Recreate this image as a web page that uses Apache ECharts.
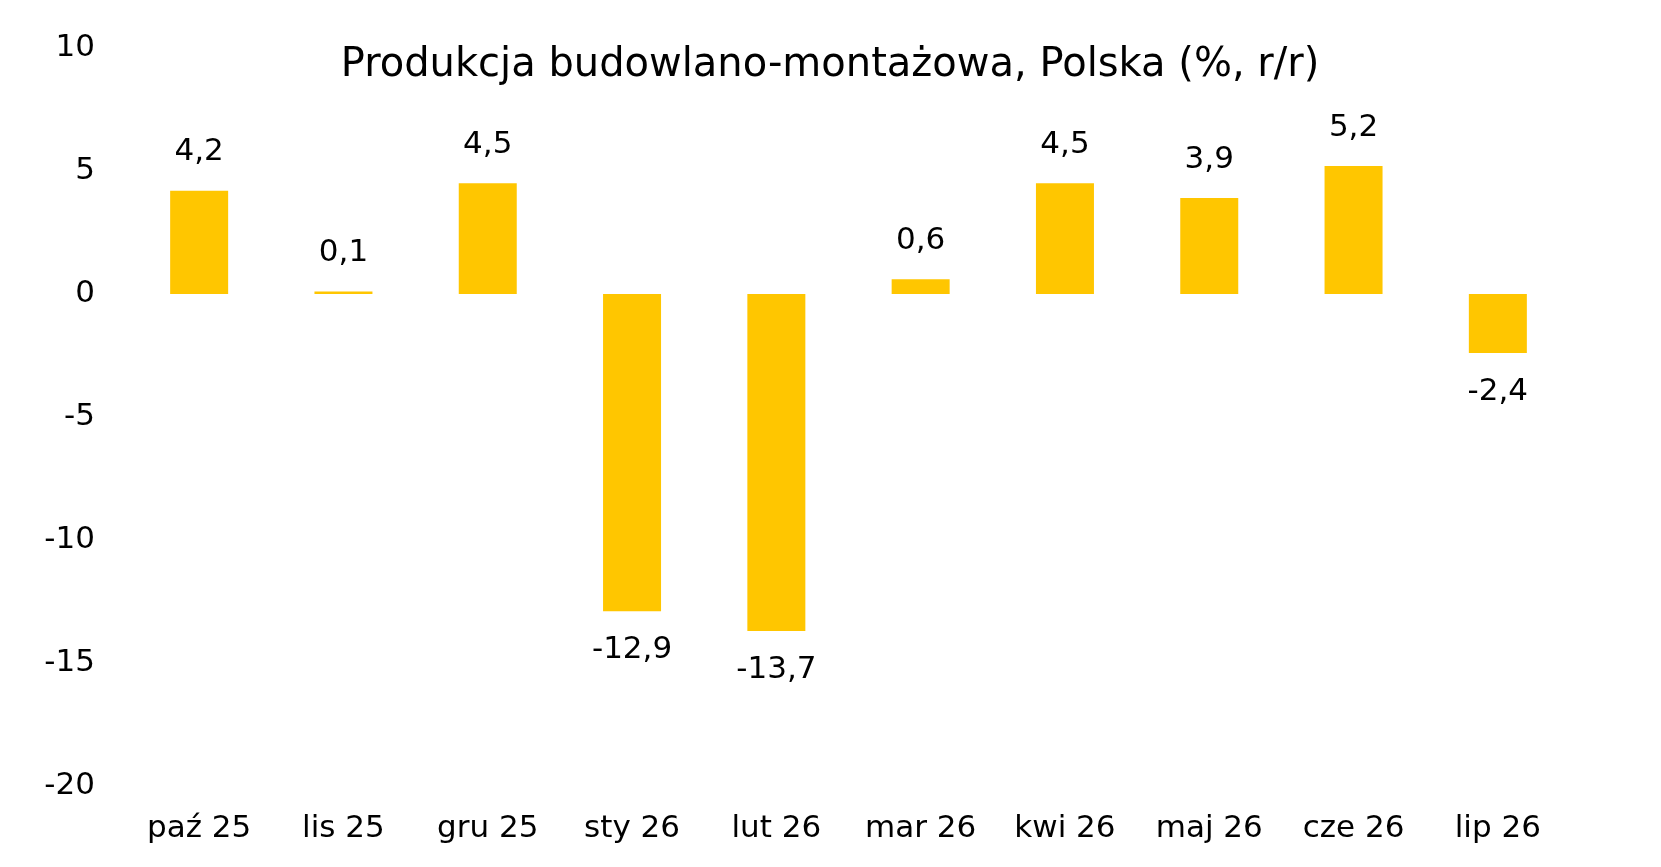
<!DOCTYPE html>
<html>
<head>
<meta charset="utf-8">
<script src="https://cdn.jsdelivr.net/npm/echarts@6/dist/echarts.min.js"></script>
<style>
html,body{margin:0;padding:0;background:#fff;}
#chart{width:1661px;height:867px;}
</style>
</head>
<body>
<div id="chart"></div>
<script>
var titleText = 'Produkcja budowlano-montażowa, Polska (%, r/r)';
var categories = ['paź 25','lis 25','gru 25','sty 26','lut 26','mar 26','kwi 26','maj 26','cze 26','lip 26'];
var values = [4.2, 0.1, 4.5, -12.9, -13.7, 0.6, 4.5, 3.9, 5.2, -2.4];
var yMin = -20, yMax = 10, yStep = 5;

var FONT = '"DejaVu Sans", Verdana, sans-serif';
var chart = echarts.init(document.getElementById('chart'), null, {renderer:'canvas'});
chart.setOption({
  animation:false,
  backgroundColor:'#ffffff',
  title:{
    text:titleText,
    left:825, top:41,
    textAlign:'center',
    textStyle:{fontFamily:FONT,fontSize:40,fontWeight:'normal',color:'#000'}
  },
  grid:{left:127,right:91,top:48,bottom:81,containLabel:false},
  xAxis:{
    type:'category',
    data:categories,
    position:'bottom',
    axisLine:{show:false,onZero:false},
    axisTick:{show:false},
    axisLabel:{fontFamily:FONT,fontSize:31,color:'#000',margin:27,interval:0}
  },
  yAxis:{
    type:'value',
    min:yMin,max:yMax,interval:yStep,
    axisLine:{show:false},
    axisTick:{show:false},
    splitLine:{show:false},
    axisLabel:{fontFamily:FONT,fontSize:31,color:'#000',margin:32}
  },
  series:[{
    type:'bar',
    barWidth:58,
    itemStyle:{color:'#FFC600'},
    data:values.map(function(v){
      return {value:v,label:{position: v<0 ? 'bottom' : 'top'}};
    }),
    label:{
      show:true,
      distance:23,
      fontFamily:FONT,fontSize:31,color:'#000',
      formatter:function(p){return String(p.value).replace('.',',');}
    }
  }]
});
</script>
</body>
</html>
